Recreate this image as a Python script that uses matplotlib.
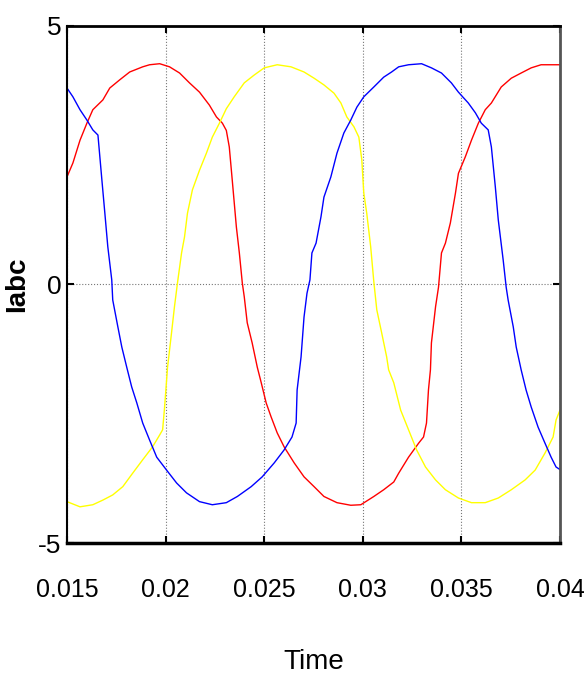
import matplotlib
matplotlib.use('Agg')
import matplotlib.pyplot as plt

# three phase currents (time in s, current in A)
t_a = [0.01500, 0.01530, 0.01566, 0.01601, 0.01631, 0.01682, 0.01717, 0.01768, 0.01818, 0.01884,
       0.01919, 0.01970, 0.02020, 0.02071, 0.02121, 0.02172, 0.02222, 0.02258, 0.02288, 0.02308,
       0.02323, 0.02338, 0.02359, 0.02374, 0.02389, 0.02399, 0.02414, 0.02439, 0.02465, 0.02485,
       0.02510, 0.02535, 0.02566, 0.02601, 0.02652, 0.02702, 0.02753, 0.02803, 0.02869, 0.02939,
       0.02990, 0.03056, 0.03106, 0.03157, 0.03182, 0.03232, 0.03283, 0.03308, 0.03323, 0.03333,
       0.03343, 0.03348, 0.03369, 0.03384, 0.03399, 0.03419, 0.03444, 0.03470, 0.03485, 0.03520,
       0.03551, 0.03586, 0.03621, 0.03652, 0.03702, 0.03753, 0.03803, 0.03854, 0.03904, 0.03975,
       0.04000]
ia = [2.08, 2.35, 2.79, 3.12, 3.38, 3.57, 3.80, 3.96, 4.11, 4.21,
      4.25, 4.27, 4.21, 4.09, 3.90, 3.72, 3.47, 3.24, 3.12, 2.98,
      2.66, 2.02, 1.11, 0.61, 0.03, -0.24, -0.74, -1.13, -1.60, -1.90,
      -2.29, -2.56, -2.87, -3.14, -3.45, -3.72, -3.91, -4.10, -4.22, -4.27,
      -4.26, -4.10, -3.97, -3.82, -3.65, -3.34, -3.07, -2.95, -2.68, -2.04,
      -1.65, -1.13, -0.43, -0.05, 0.61, 0.80, 1.19, 1.77, 2.15, 2.47,
      2.79, 3.12, 3.38, 3.51, 3.82, 3.99, 4.09, 4.19, 4.25, 4.25,
      4.25]

t_b = [0.01500, 0.01530, 0.01566, 0.01601, 0.01631, 0.01657, 0.01677, 0.01692, 0.01707, 0.01727,
       0.01732, 0.01758, 0.01778, 0.01803, 0.01828, 0.01854, 0.01884, 0.01919, 0.01955, 0.02005,
       0.02056, 0.02106, 0.02172, 0.02237, 0.02308, 0.02364, 0.02434, 0.02490, 0.02551, 0.02601,
       0.02641, 0.02662, 0.02667, 0.02687, 0.02702, 0.02717, 0.02732, 0.02742, 0.02763, 0.02788,
       0.02803, 0.02838, 0.02869, 0.02904, 0.02939, 0.02970, 0.03005, 0.03056, 0.03106, 0.03146,
       0.03182, 0.03232, 0.03298, 0.03348, 0.03399, 0.03449, 0.03485, 0.03535, 0.03571, 0.03601,
       0.03636, 0.03652, 0.03672, 0.03687, 0.03712, 0.03727, 0.03737, 0.03763, 0.03778, 0.03803,
       0.03828, 0.03854, 0.03889, 0.03924, 0.03955, 0.03980, 0.04000]
ib = [3.80, 3.63, 3.38, 3.18, 2.99, 2.89, 2.02, 1.38, 0.73, 0.09,
      -0.30, -0.82, -1.21, -1.60, -1.98, -2.29, -2.68, -3.01, -3.34, -3.59,
      -3.84, -4.03, -4.20, -4.26, -4.22, -4.10, -3.91, -3.72, -3.45, -3.20,
      -2.95, -2.68, -2.04, -1.40, -0.63, -0.17, 0.09, 0.61, 0.80, 1.31,
      1.69, 2.08, 2.54, 2.93, 3.18, 3.43, 3.63, 3.82, 4.01, 4.11,
      4.21, 4.25, 4.27, 4.19, 4.09, 3.90, 3.72, 3.51, 3.32, 3.12,
      2.99, 2.66, 1.89, 1.25, 0.47, -0.05, -0.30, -0.82, -1.21, -1.65,
      -2.04, -2.37, -2.76, -3.07, -3.34, -3.53, -3.58]

t_c = [0.01500, 0.01566, 0.01631, 0.01682, 0.01732, 0.01783, 0.01833, 0.01884, 0.01934, 0.01970,
       0.01985, 0.01995, 0.02010, 0.02030, 0.02045, 0.02061, 0.02081, 0.02096, 0.02111, 0.02136,
       0.02172, 0.02207, 0.02237, 0.02273, 0.02308, 0.02348, 0.02399, 0.02449, 0.02500, 0.02566,
       0.02636, 0.02702, 0.02753, 0.02803, 0.02854, 0.02889, 0.02919, 0.02955, 0.02980, 0.02995,
       0.03005, 0.03020, 0.03040, 0.03056, 0.03071, 0.03096, 0.03121, 0.03131, 0.03157, 0.03192,
       0.03232, 0.03273, 0.03318, 0.03369, 0.03419, 0.03485, 0.03551, 0.03621, 0.03687, 0.03753,
       0.03823, 0.03874, 0.03924, 0.03965, 0.03980, 0.04000]
ic = [-4.20, -4.30, -4.26, -4.17, -4.07, -3.91, -3.65, -3.39, -3.14, -2.91,
      -2.81, -2.37, -1.60, -0.94, -0.43, 0.05, 0.61, 0.92, 1.38, 1.83,
      2.21, 2.54, 2.85, 3.12, 3.40, 3.63, 3.90, 4.05, 4.19, 4.25,
      4.21, 4.11, 3.99, 3.86, 3.70, 3.51, 3.24, 3.05, 2.85, 2.41,
      1.77, 1.38, 0.73, 0.05, -0.49, -0.94, -1.40, -1.65, -1.90, -2.43,
      -2.81, -3.20, -3.53, -3.78, -3.97, -4.13, -4.22, -4.22, -4.13, -3.97,
      -3.78, -3.59, -3.26, -2.95, -2.62, -2.43]

xticks = [0.015, 0.02, 0.025, 0.03, 0.035, 0.04]
xtick_labels = ['0.015', '0.02', '0.025', '0.03', '0.035', '0.04']
yticks = [-5, 0, 5]

sans = ['Liberation Sans', 'DejaVu Sans']

fig = plt.figure(figsize=(5.84, 6.89), dpi=100)
ax = fig.add_axes([0.1147, 0.2119, 0.8442, 0.7504])

ax.plot(t_a, ia, color='#ff0000', lw=1.0)
ax.plot(t_c, ic, color='#ffff00', lw=1.0)
ax.plot(t_b, ib, color='#0000ff', lw=1.0)

ax.set_xlim(0.015, 0.04)
ax.set_ylim(-5, 5)
ax.set_xticks(xticks)
ax.set_xticklabels(xtick_labels, family=sans, fontsize=18)
ax.set_yticks(yticks)
ax.set_yticklabels([str(v) for v in yticks], family=sans, fontsize=19)

ax.grid(True, linestyle=':', color='#777777', lw=0.8)
ax.tick_params(direction='in', top=True, right=True, length=5, width=1.5, color='black')
ax.tick_params(axis='x', pad=25)
ax.tick_params(axis='y', pad=4)

ax.spines['left'].set_linewidth(1.5)
ax.spines['bottom'].set_linewidth(2.5)
ax.spines['top'].set_linewidth(2)
ax.spines['right'].set_linewidth(2)
ax.spines['right'].set_color('#555555')

ax.set_xlabel('Time', family=sans, fontsize=20)
ax.xaxis.set_label_coords(0.5, -0.205)
ax.set_ylabel('Iabc', family=sans, fontweight='bold', fontsize=20)
ax.yaxis.set_label_coords(-0.075, 0.5)

fig.savefig('out.png', dpi=100)
